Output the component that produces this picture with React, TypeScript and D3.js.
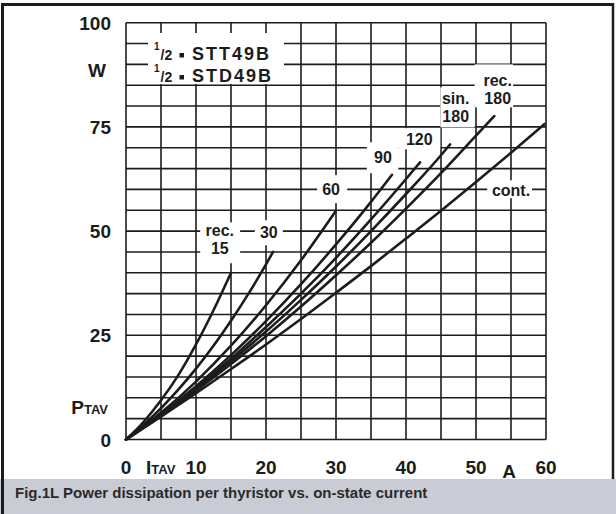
import React, { useEffect, useRef } from 'react';
import * as d3 from 'd3';

// power dissipation curves, [I_TAV (A), P_TAV (W)]
const rec15: [number, number][] = [[0, 0], [2.5, 4.2], [5, 9.4], [7.5, 15.5], [10, 22.8], [12.5, 31], [15, 40]];
const rec30: [number, number][] = [[0, 0], [2.5, 3.5], [5, 7.5], [7.5, 12], [10, 17], [12.5, 22.5], [15, 28.5], [17.5, 35], [20, 42], [21, 45]];
const rec60: [number, number][] = [[0, 0], [5, 6.4], [10, 13.9], [15, 22.5], [20, 32.2], [25, 43], [30, 54.9]];
const rec90: [number, number][] = [[0, 0], [5, 6.05], [10, 12.8], [15, 20.25], [20, 28.4], [25, 37.25], [30, 46.8], [35, 57], [38, 63.5]];
const rec120: [number, number][] = [[0, 0], [5, 5.9], [10, 12.4], [15, 19.4], [20, 27], [25, 35], [30, 43.6], [35, 52.8], [40, 62.5], [42, 66.5]];
const sin180: [number, number][] = [[0, 0], [5, 5.8], [10, 12.1], [15, 18.8], [20, 25.9], [25, 33.5], [30, 41.5], [35, 50], [40, 58.9], [45, 68.2], [46.3, 70.8]];
const rec180: [number, number][] = [[0, 0], [5, 5.7], [10, 11.7], [15, 18.1], [20, 24.8], [25, 31.9], [30, 39.4], [35, 47.2], [40, 55.4], [45, 63.9], [50, 72.9], [52.6, 77.6]];
const cont: [number, number][] = [[0, 0], [5, 5.5], [10, 11.1], [15, 16.9], [20, 22.8], [25, 28.9], [30, 35.2], [35, 41.6], [40, 48.2], [45, 54.9], [50, 61.8], [55, 68.8], [59.8, 75.7]];

const curves = [rec15, rec30, rec60, rec90, rec120, sin180, rec180, cont];

const xTicks = [0, 10, 20, 30, 40, 50, 60];
const yTicks = [0, 25, 50, 75, 100];
const caption = 'Fig.1L Power dissipation per thyristor vs. on-state current';

// curve labels: text lines, anchor (A, W) of first baseline, white box [A0, A1, W0, W1]
const curveLabels = [
  { lines: ['rec.', '15'], at: [13.4, 48.8], box: [10.6, 16.3, 52.1, 42.3] },
  { lines: ['30'], at: [20.4, 48.3], box: [18.4, 22.4, 52.6, 46.6] },
  { lines: ['60'], at: [29.3, 58.6], box: [27.3, 31.6, 63.4, 56.7] },
  { lines: ['90'], at: [36.7, 66.3], box: [34.4, 38.9, 71.3, 63.9] },
  { lines: ['120'], at: [41.9, 70.6], box: [38.9, 44.9, 74.7, 69.6] },
  { lines: ['sin.', '180'], at: [47.1, 80.6], box: [44.9, 49.8, 84.5, 74.9] },
  { lines: ['rec.', '180'], at: [53.1, 84.7], box: [49.8, 55.3, 90.0, 79.7] },
  { lines: ['cont.'], at: [55, 58.5], box: [51.6, 58.0, 62.2, 57.9] },
];

const FONT = '"Liberation Sans", Arial, Helvetica, sans-serif';
const INK = '#1c1c1c';

const App: React.FC = () => {
  const svgRef = useRef<SVGSVGElement>(null);

  useEffect(() => {
    const svg = d3.select(svgRef.current);
    svg.selectAll('*').remove();

    const x = d3.scaleLinear().domain([0, 60]).range([126, 546]);
    const y = d3.scaleLinear().domain([0, 100]).range([439.5, 22.7]);

    svg.append('rect').attr('width', 616).attr('height', 514).attr('fill', 'white');

    // caption band
    svg.append('rect').attr('x', 0).attr('y', 479).attr('width', 616).attr('height', 35).attr('fill', '#c9ccd4');
    svg.append('text')
      .attr('x', 15).attr('y', 498)
      .attr('font-family', FONT).attr('font-size', 15).attr('font-weight', 'bold')
      .attr('fill', '#2a2a2a')
      .text(caption);

    // frame
    svg.append('line').attr('x1', 2.5).attr('x2', 2.5).attr('y1', 3).attr('y2', 514).attr('stroke', INK).attr('stroke-width', 3);
    svg.append('line').attr('x1', 2).attr('x2', 614).attr('y1', 4.5).attr('y2', 4.5).attr('stroke', INK).attr('stroke-width', 3);
    svg.append('line').attr('x1', 613).attr('x2', 613).attr('y1', 3).attr('y2', 479).attr('stroke', INK).attr('stroke-width', 2.5);

    // grid
    const grid = svg.append('g').attr('stroke', INK).attr('stroke-width', 1.6);
    grid.selectAll('.v').data(d3.range(0, 61, 5)).enter().append('line')
      .attr('x1', d => x(d)).attr('x2', d => x(d))
      .attr('y1', y(100)).attr('y2', y(0));
    grid.selectAll('.h').data(d3.range(0, 101, 5)).enter().append('line')
      .attr('x1', x(0)).attr('x2', x(60))
      .attr('y1', d => y(d)).attr('y2', d => y(d));

    // white boxes behind legend and labels
    svg.append('rect')
      .attr('x', 148).attr('y', 33).attr('width', 136).attr('height', 51)
      .attr('fill', 'white');
    svg.selectAll('.lblbox').data(curveLabels).enter().append('rect')
      .attr('x', d => x(d.box[0])).attr('width', d => x(d.box[1]) - x(d.box[0]))
      .attr('y', d => y(d.box[2])).attr('height', d => y(d.box[3]) - y(d.box[2]))
      .attr('fill', 'white');

    // curves
    const line = d3.line<[number, number]>()
      .x(d => x(d[0]))
      .y(d => y(d[1]))
      .curve(d3.curveMonotoneX);
    svg.append('g').selectAll('path').data(curves).enter().append('path')
      .attr('d', d => line(d)!)
      .attr('fill', 'none')
      .attr('stroke', INK)
      .attr('stroke-width', 2.6)
      .attr('stroke-linecap', 'round');

    // curve labels
    curveLabels.forEach(l => {
      l.lines.forEach((t, i) => {
        svg.append('text')
          .attr('x', x(l.at[0])).attr('y', y(l.at[1]) + i * 18)
          .attr('text-anchor', 'middle')
          .attr('font-family', FONT).attr('font-size', 16).attr('font-weight', 'bold')
          .attr('fill', INK)
          .text(t);
      });
    });

    // legend
    const legend = ['STT49B', 'STD49B'];
    legend.forEach((name, i) => {
      const base = 60 + i * 22;
      svg.append('text').attr('x', 154).attr('y', base - 10)
        .attr('font-family', FONT).attr('font-size', 10).attr('font-weight', 'bold').attr('fill', INK).text('1');
      svg.append('text').attr('x', 160.5).attr('y', base)
        .attr('font-family', FONT).attr('font-size', 14).attr('font-weight', 'bold').attr('fill', INK).text('/2');
      svg.append('rect').attr('x', 179.5).attr('y', base - 7).attr('width', 4.5).attr('height', 4.5).attr('fill', INK);
      svg.append('text').attr('x', 192).attr('y', base)
        .attr('font-family', FONT).attr('font-size', 18).attr('font-weight', 'bold')
        .attr('letter-spacing', 2).attr('fill', INK).text(name);
    });

    // y axis labels
    svg.selectAll('.ytick').data(yTicks).enter().append('text')
      .attr('x', 111).attr('y', d => y(d) + 7)
      .attr('text-anchor', 'end')
      .attr('font-family', FONT).attr('font-size', 19).attr('font-weight', 'bold')
      .attr('fill', INK)
      .text(d => String(d));
    svg.append('text').attr('x', 106).attr('y', 77)
      .attr('text-anchor', 'end')
      .attr('font-family', FONT).attr('font-size', 19).attr('font-weight', 'bold')
      .attr('fill', INK).text('W');
    const pLabel = svg.append('text').attr('x', 108).attr('y', 414)
      .attr('text-anchor', 'end')
      .attr('font-family', FONT).attr('font-weight', 'bold').attr('fill', INK);
    pLabel.append('tspan').attr('font-size', 19).text('P');
    pLabel.append('tspan').attr('font-size', 13).text('TAV');

    // x axis labels
    svg.selectAll('.xtick').data(xTicks).enter().append('text')
      .attr('x', d => x(d)).attr('y', 474)
      .attr('text-anchor', 'middle')
      .attr('font-family', FONT).attr('font-size', 19).attr('font-weight', 'bold')
      .attr('fill', INK)
      .text(d => String(d));
    const iLabel = svg.append('text').attr('x', 146).attr('y', 474)
      .attr('font-family', FONT).attr('font-weight', 'bold').attr('fill', INK);
    iLabel.append('tspan').attr('font-size', 19).text('I');
    iLabel.append('tspan').attr('font-size', 13).text('TAV');
    svg.append('text').attr('x', 509).attr('y', 478)
      .attr('text-anchor', 'middle')
      .attr('font-family', FONT).attr('font-size', 19).attr('font-weight', 'bold')
      .attr('fill', INK).text('A');
  }, []);

  return (
    <div style={{ position: 'absolute', left: 0, top: 0, width: 616, height: 514 }}>
      <svg ref={svgRef} width={616} height={514}></svg>
    </div>
  );
};

export default App;
